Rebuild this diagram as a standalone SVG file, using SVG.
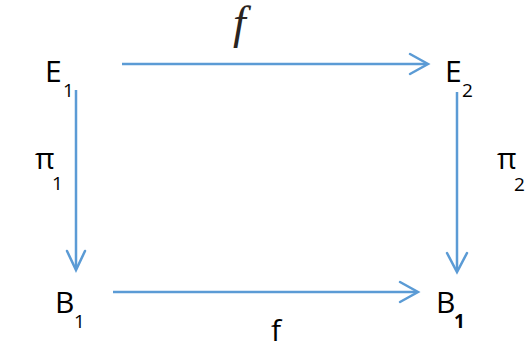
<svg xmlns="http://www.w3.org/2000/svg" width="525" height="347" viewBox="0 0 525 347">
<defs>
<style>
.lbl{font-family:"Open Sans","Noto Sans",sans-serif;font-size:30px;fill:#000}
.sub{font-family:"Open Sans","Noto Sans",sans-serif;font-size:19px;fill:#000}
.edge{stroke:#5B9BD5;stroke-width:2.5;fill:none}
.head{stroke:#5B9BD5;stroke-width:2.5;fill:none;stroke-linecap:round;stroke-linejoin:miter}
</style>
</defs>
<rect width="525" height="347" fill="#fff"/>
<g id="connectors">
<g id="top-arrow"><line class="edge" x1="122" y1="64" x2="427" y2="64"/><polyline class="head" points="410,54 428,64 410,74"/></g>
<g id="left-arrow"><line class="edge" x1="76" y1="90" x2="76" y2="269"/><polyline class="head" points="67,251 76,270 85,251"/></g>
<g id="right-arrow"><line class="edge" x1="457" y1="92" x2="457" y2="271"/><polyline class="head" points="447,253 457,272 467,253"/></g>
<g id="bottom-arrow"><line class="edge" x1="113" y1="292" x2="417" y2="292"/><polyline class="head" points="400,282 418,292 400,302"/></g>
<text id="label-f-top" x="233" y="38" font-family="Liberation Serif,serif" font-style="italic" font-size="46" fill="#2a2420">f</text>
<text id="label-f-bottom" class="lbl" x="271" y="341" font-size="31">f</text>
<g id="label-pi1"><text class="lbl" x="35" y="169">π</text><text class="sub" x="52" y="190">1</text></g>
<g id="label-pi2"><text class="lbl" x="497" y="169">π</text><text class="sub" x="514" y="191">2</text></g>
</g>
<g id="E1"><text class="lbl" x="45" y="82">E</text><text class="sub" x="63" y="97">1</text></g>
<g id="E2"><text class="lbl" x="445" y="82">E</text><text class="sub" x="462" y="97">2</text></g>
<g id="B1-left"><text class="lbl" x="55" y="313">B</text><text class="sub" x="74" y="328">1</text></g>
<g id="B1-right"><text class="lbl" x="436" y="313">B</text><text class="sub" x="454" y="328" font-weight="bold">1</text></g>
</svg>
